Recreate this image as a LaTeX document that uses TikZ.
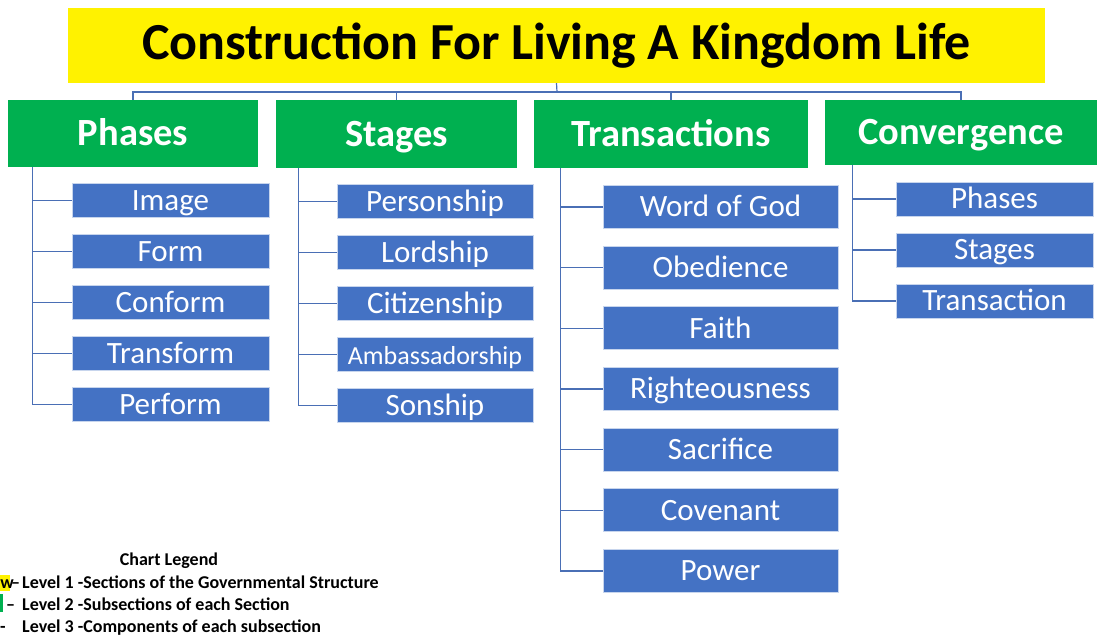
\documentclass[tikz,border=0pt]{standalone}
\usepackage{fontspec}
\setmainfont{Carlito}
\definecolor{hdrgreen}{HTML}{00B050}
\definecolor{boxblue}{HTML}{4472C4}
\definecolor{lineblue}{HTML}{4A6FB5}

\begin{document}
\begin{tikzpicture}[x=1pt,y=-1pt,
		header/.style={fill=hdrgreen, text=white, inner sep=0pt, text height=24.3pt, text depth=0pt, font=\fontsize{38.5}{42}\selectfont\bfseries},
		item/.style={fill=boxblue, draw=white!70!boxblue, line width=0.8pt, text=white, inner sep=0pt, text height=19.6pt, text depth=0pt, font=\fontsize{31}{34}\selectfont},
		link/.style={draw=lineblue, line width=1.2pt},
		legend/.style={inner sep=0pt, text height=11.5pt, text depth=0pt, font=\fontsize{18}{21}\selectfont\bfseries}]
				\useasboundingbox (0,0) rectangle (1097,636);
				\node[fill=yellow, minimum width=977pt, minimum height=75pt, inner sep=0pt, text height=33pt, text depth=5pt, font=\fontsize{52}{56}\selectfont\bfseries] (title) at (556.5,45.5) {Construction For Living A Kingdom Life};
				\node[header, minimum width=250pt, minimum height=67pt] (phases) at (133,133.5) {Phases};
				\node[header, minimum width=241pt, minimum height=68pt] (stages) at (396.5,134) {Stages};
				\node[header, minimum width=274pt, minimum height=68pt] (trans) at (671,134) {Transactions};
				\node[header, minimum width=272pt, minimum height=65pt] (conv) at (961,132.5) {Convergence};
				\coordinate (bus) at (557,92);
				\draw[link] (title.south) -- (bus);
				\foreach \h in {phases,stages,trans,conv} {
						\draw[link] (bus) -| (\h.north);
					}
				\foreach \t [count=\i from 0] in {Image,Form,Conform,Transform,Perform} {
						\node[item, minimum width=197pt, minimum height=34pt] (ph\i) at (170.5,200.5+51*\i) {\t};
						\draw[link] ([xshift=25pt]phases.south west) |- (ph\i.west);
					}
				\foreach \t [count=\i from 0] in {Personship,Lordship,Citizenship,{\fontsize{26}{28}\selectfont Ambassadorship},Sonship} {
						\node[item, minimum width=196pt, minimum height=34pt] (st\i) at (435,201.5+51*\i) {\t};
						\draw[link] ([xshift=23pt]stages.south west) |- (st\i.west);
					}
				\foreach \t [count=\i from 0] in {Word of God,Obedience,Faith,Righteousness,Sacrifice,Covenant,Power} {
						\node[item, minimum width=235pt, minimum height=43pt] (tr\i) at (720.5,207+60.67*\i) {\t};
						\draw[link] ([xshift=27pt]trans.south west) |- (tr\i.west);
					}
				\foreach \t [count=\i from 0] in {Phases,Stages,Transaction} {
						\node[item, minimum width=197pt, minimum height=34pt] (cv\i) at (994.5,199+51*\i) {\t};
						\draw[link] ([xshift=28pt]conv.south west) |- (cv\i.west);
					}
				% legend
				\node[legend] (lgd) at (169,560) {Chart Legend};
				\node[legend, anchor=west] (lv1) at (22,583) {Level 1 -Sections of the Governmental Structure};
				\node[legend, anchor=west] (lv2) at (22,605) {Level 2 -Subsections of each Section};
				\node[legend, anchor=west] (lv3) at (22,627) {Level 3 -Components of each subsection};
				\fill[yellow] (0,575) rectangle (10,591);
				\node[legend, anchor=west] (yw) at (0.3,583) {w};
				\node[legend, anchor=west] at (11,583) {–};
				\fill[hdrgreen] (0,594) rectangle (3,612);
				\node[legend, anchor=west] at (6,605) {–};
				\node[legend, anchor=west] at (0,627) {-};
			\end{tikzpicture}
\end{document}
